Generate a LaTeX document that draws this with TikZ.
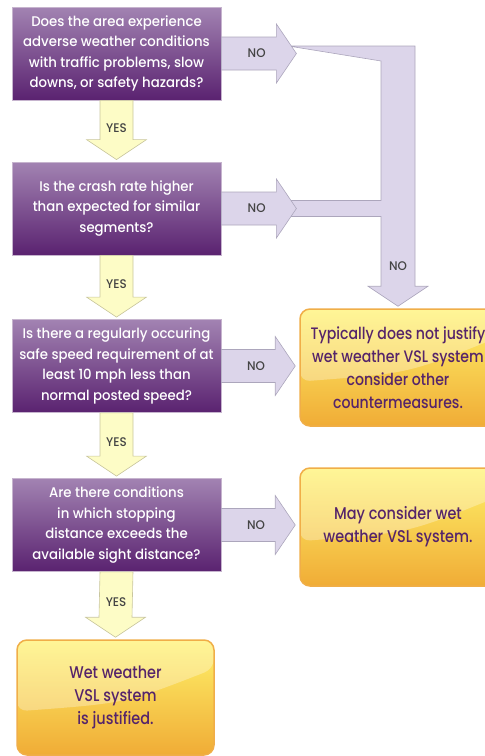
\documentclass[tikz,border=0pt]{standalone}
\usepackage{fontspec}
\setmainfont[FakeStretch=0.95]{Poppins Medium}
\newfontfamily\outcomefont[FakeStretch=0.85]{Poppins Medium}
\usetikzlibrary{calc}
\definecolor{plum}{HTML}{5A2270}
\definecolor{plumlight}{HTML}{A283B2}
\definecolor{plumedge}{HTML}{C6B4CE}
\definecolor{lemon}{HTML}{FFF26A}
\definecolor{amber}{HTML}{F0AC36}
\definecolor{amberedge}{HTML}{F0AE48}
\definecolor{lilac}{HTML}{DCD5EA}
\definecolor{lilacedge}{HTML}{ACA6BC}
\definecolor{cream}{HTML}{FDFCC6}
\definecolor{creamedge}{HTML}{C9C69E}
\definecolor{labelgray}{HTML}{444444}
\definecolor{inkplum}{HTML}{55246A}
\tikzset{
  question/.style={draw=plumedge, line width=0.8pt, top color=plumlight, bottom color=plum,
    minimum width=209pt, minimum height=93pt, inner sep=0pt, align=center, text=white,
    font=\fontsize{14}{20.5}\selectfont},
  result/.style={draw=amberedge, line width=1.5pt, rounded corners=10pt, top color=lemon,
    bottom color=amber, inner sep=0pt, align=center, text=inkplum,
    font=\outcomefont\fontsize{17}{23}\selectfont,
    path picture={\fill[white, opacity=.3]
      (path picture bounding box.north west) --
      ($(path picture bounding box.north west)!0.62!(path picture bounding box.south west)$)
      .. controls ($(path picture bounding box.north west)!0.55!(path picture bounding box.south east)$)
      .. ($(path picture bounding box.north east)!0.25!(path picture bounding box.south east)$)
      -- (path picture bounding box.north east) -- cycle;}},
  noarrow/.style={draw=lilacedge, fill=lilac, line width=0.6pt},
  yesarrow/.style={draw=creamedge, fill=cream, line width=0.6pt},
  tag/.style={text=labelgray, font=\fontsize{12.5}{14}\selectfont}
}
% block arrow down between two boxes
\newcommand\yesdown[2]{%
  \draw[yesarrow] ($(#1.south)+(-16.5,0)$) -- ($(#2.north)+(-16.5,-22)$) -- ($(#2.north)+(-30,-22)$)
    -- ($(#2.north)+(0,-2)$) -- ($(#2.north)+(30,-22)$) -- ($(#2.north)+(16.5,-22)$)
    -- ($(#1.south)+(16.5,0)$) -- cycle;
  \node[tag] (y#1) at ($(#1.south)!0.45!(#2.north)$) {YES};}
% block arrow right from a box to a tip
\newcommand\noright[2]{%
  \draw[noarrow] ($(#1.east)+(0,-16.5)$) -- ($(#2)+(-20,-16.5)$) -- ($(#2)+(-20,-29.5)$) -- (#2)
    -- ($(#2)+(-20,29.5)$) -- ($(#2)+(-20,16.5)$) -- ($(#1.east)+(0,16.5)$) -- cycle;
  \node[tag] (n#1) at ($(#1.east)!0.47!(#2)$) {NO};}
\begin{document}
\begin{tikzpicture}[x=1pt,y=-1pt]
  \useasboundingbox (0,0) rectangle (485,756);
  \clip (0,0) rectangle (485,756);
  % questions
  \node[question] (q1) at (116.5,53.5) {Does the area experience\\adverse weather conditions\\with traffic problems, slow\\downs, or safety hazards?};
  \node[question] (q2) at (116.5,208.5) {Is the crash rate higher\\than expected for similar\\segments?};
  \node[question] (q3) at (116.5,366) {Is there a regularly occuring\\safe speed requirement of at\\least 10 mph less than\\normal posted speed?};
  \node[question] (q4) at (116.5,525) {Are there conditions\\in which stopping\\distance exceeds the\\available sight distance?};
  % outcomes
  \node[result, minimum width=196pt, minimum height=117pt, font=\outcomefont\fontsize{16.6}{23}\selectfont] (r1) at (398,367.5) {Typically does not justify\\wet weather VSL system\\consider other\\countermeasures.};
  \node[result, minimum width=196pt, minimum height=118pt] (r2) at (398,527) {May consider wet\\weather VSL system.};
  \node[result, minimum width=197pt, minimum height=115pt] (r3) at (115.5,697.5) {Wet weather\\VSL system\\is justified.};
  % arrow tips
  \coordinate (t1) at ($(q1.east)+(75,0)$);
  \coordinate (t2) at ($(q2.east)+(75,0)$);
  \coordinate (t3) at ($(q3.east -| r1.west)+(-4,0)$);
  \coordinate (t4) at ($(q4.east -| r2.west)+(-4,0)$);
  \coordinate (t0) at ($(r1.north)+(0,-2)$);
  % collecting pipe
  \draw[noarrow] ($(t1)+(-8,-7.5)$) -| ($(t0)+(17,-20)$) -- ($(t0)+(30,-20)$) -- (t0)
    -- ($(t0)+(-30,-20)$) -- ($(t0)+(-17,-20)$) |- ($(t2)+(-8,8)$) -- ($(t2)+(-8,-8)$)
    -| ($(t0 |- t1)+(-17,7.5)$) -- cycle;
  \node[tag] (n0) at ($(t0)+(0,-40)$) {NO};
  \noright{q1}{t1}
  \noright{q2}{t2}
  \noright{q3}{t3}
  \noright{q4}{t4}
  \yesdown{q1}{q2}
  \yesdown{q2}{q3}
  \yesdown{q3}{q4}
  \yesdown{q4}{r3}
\end{tikzpicture}
\end{document}
